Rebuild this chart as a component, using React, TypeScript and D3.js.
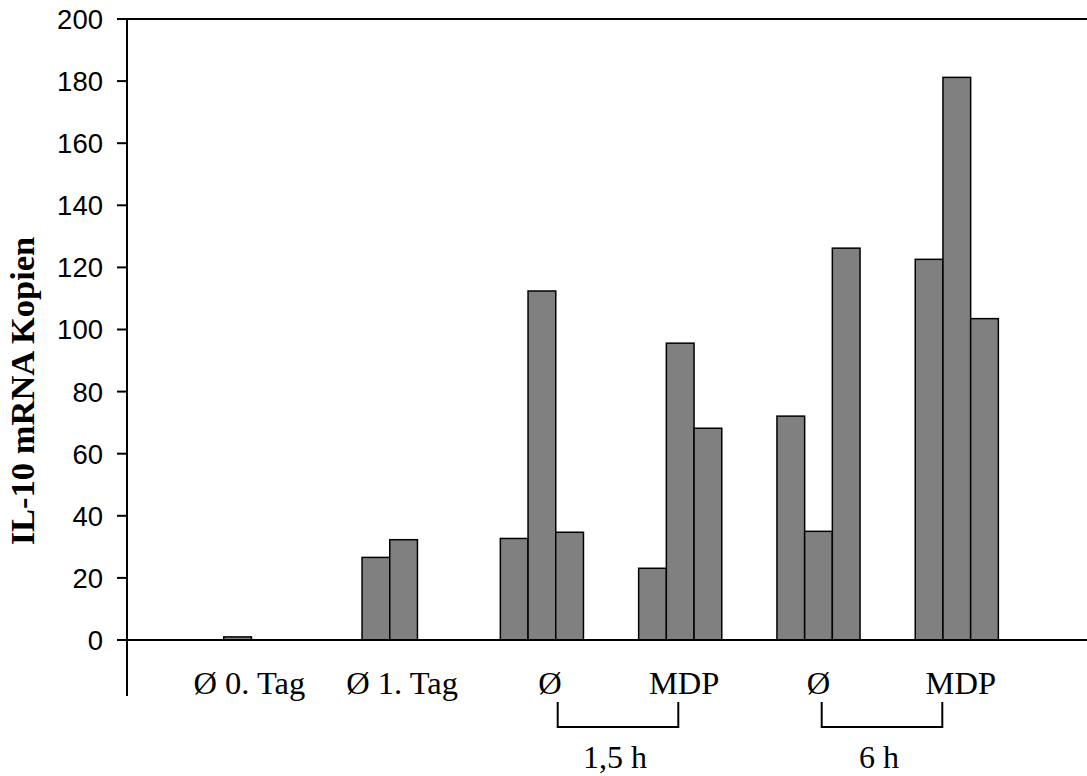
import React from "react";
import * as d3 from "d3";

// ---- data ----
const categories: string[] = ["Ø 0. Tag", "Ø 1. Tag", "Ø", "MDP", "Ø", "MDP"];
const series1: (number | null)[] = [1, 26.6, 32.7, 23.1, 72.1, 122.6];
const series2: (number | null)[] = [null, 32.3, 112.4, 95.6, 35.0, 181.2];
const series3: (number | null)[] = [null, null, 34.7, 68.2, 126.2, 103.5];
const yTicks: number[] = [0, 20, 40, 60, 80, 100, 120, 140, 160, 180, 200];
const timeGroups = [
  { label: "1,5 h", from: 2, to: 3 },
  { label: "6 h", from: 4, to: 5 },
];
const yTitle = "IL-10 mRNA Kopien";

// ---- layout ----
const W = 1087;
const H = 776;
const axisX = 127;
const yTop = 19;
const yZero = 640;
const slotCount = 7; // category positions 1..6, axis at 0
const groupStep = 138.3;
const barW = 27.7;
// small manual nudges of category labels (as in the original)
const labelNudge = [-16, -1.5, 8, 4, 0, 4];
const bracketNudge = [
  [15.8, -1.9],
  [3.2, -14.5],
];

export default function App() {
  const x = d3
    .scaleLinear()
    .domain([0, slotCount])
    .range([axisX, axisX + slotCount * groupStep]);
  const y = d3.scaleLinear().domain([0, 200]).range([yZero, yTop]);
  const inner = d3
    .scaleBand<number>()
    .domain([0, 1, 2])
    .range([-1.5 * barW, 1.5 * barW])
    .padding(0);

  const allSeries = [series1, series2, series3];
  const bars: { k: number; s: number; v: number }[] = [];
  allSeries.forEach((ser, s) =>
    ser.forEach((v, i) => {
      if (v !== null && v !== undefined) bars.push({ k: i + 1, s, v });
    })
  );

  const serif = "'Liberation Serif', 'Times New Roman', serif";
  const sans = "'Liberation Sans', Arial, sans-serif";

  return (
    <svg
      width={W}
      height={H}
      style={{ position: "absolute", left: 0, top: 0, background: "#fff" }}
    >
      {/* bars */}
      {bars.map((b, i) => {
        const x0 = x(b.k) + (inner(b.s) as number);
        return (
          <rect
            key={i}
            x={x0}
            y={y(b.v)}
            width={inner.bandwidth()}
            height={yZero - y(b.v)}
            fill="#808080"
            stroke="#000"
            strokeWidth={1.5}
          />
        );
      })}

      {/* top border */}
      <line x1={axisX - 10} x2={W + 10} y1={y(200)} y2={y(200)} stroke="#000" strokeWidth={2} />
      {/* x axis baseline */}
      <line x1={axisX - 10} x2={W + 10} y1={y(0)} y2={y(0)} stroke="#000" strokeWidth={2} />
      {/* y axis */}
      <line x1={axisX} x2={axisX} y1={y(200)} y2={696} stroke="#000" strokeWidth={2} />
      {yTicks.map((t) => (
        <g key={t}>
          <line x1={axisX - 10} x2={axisX} y1={y(t)} y2={y(t)} stroke="#000" strokeWidth={2} />
          <text
            x={103}
            y={y(t)}
            dy="0.36em"
            textAnchor="end"
            fontFamily={sans}
            fontSize={27.5}
            fill="#000"
          >
            {t}
          </text>
        </g>
      ))}

      {/* y title */}
      <text
        transform={`translate(34, 391) rotate(-90)`}
        textAnchor="middle"
        fontFamily={serif}
        fontWeight="bold"
        fontSize={34.5}
        fill="#000"
      >
        {yTitle}
      </text>

      {/* category labels */}
      {categories.map((c, i) => (
        <text
          key={i}
          x={x(i + 1) + labelNudge[i]}
          y={694}
          textAnchor="middle"
          fontFamily={serif}
          fontSize={32.5}
          fill="#000"
        >
          {c}
        </text>
      ))}

      {/* time brackets */}
      {timeGroups.map((g, i) => {
        const xa = x(g.from + 1) + bracketNudge[i][0];
        const xb = x(g.to + 1) + bracketNudge[i][1];
        return (
          <g key={i}>
            <path
              d={`M${xa},702 V727 H${xb} V702`}
              fill="none"
              stroke="#000"
              strokeWidth={2}
            />
            <text
              x={(xa + xb) / 2 - 3}
              y={768}
              textAnchor="middle"
              fontFamily={serif}
              fontSize={32}
              fill="#000"
            >
              {g.label}
            </text>
          </g>
        );
      })}
    </svg>
  );
}
